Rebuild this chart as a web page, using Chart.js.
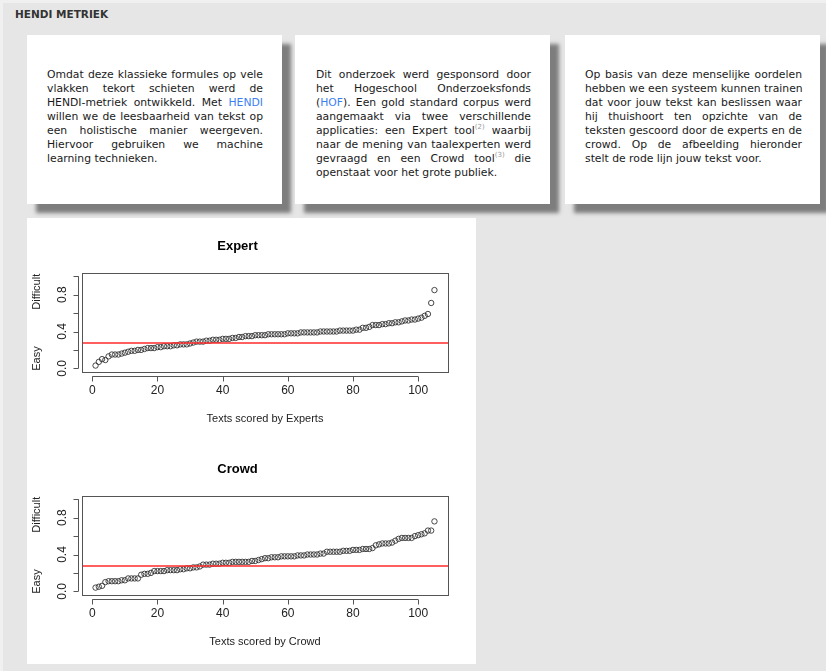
<!doctype html>
<html lang="nl">
<head>
<meta charset="utf-8">
<title>HENDI metriek</title>
<script src="https://cdn.jsdelivr.net/npm/chart.js@4.4.0/dist/chart.umd.min.js"></script>
<style>
  body { margin: 0; background: #e6e6e6; width: 826px; height: 671px; overflow: hidden; position: relative; font-family: "DejaVu Sans", sans-serif; }
  .edge { position: absolute; left: 0; top: 0; width: 826px; height: 3px; background: #f0f0f0; }
  .edge2 { position: absolute; left: 0; top: 0; width: 3px; height: 671px; background: #f0f0f0; }
  h1 { position: absolute; left: 15px; top: 7px; margin: 0; font-size: 10.5px; line-height: 14px; color: #333; font-weight: bold; }
  .card { position: absolute; top: 35px; width: 255px; height: 169px; box-sizing: border-box; padding: 33px 19px 0 20px;
          background: #fff; box-shadow: 9px 9px 4px #7d7d7d; font-size: 10.8px; line-height: 14px; color: #1a1a1a; }
  .card span { display: block; white-space: nowrap; text-align: justify; text-align-last: justify; }
  .card span.l { text-align-last: left; }
  .card a { color: #3d7ff0; text-decoration: none; }
  .card sup { font-size: 7px; color: #999; line-height: 0; }
  .panel { position: absolute; left: 27px; top: 218px; width: 449px; height: 446px; background: #fff; }
  canvas { position: absolute; left: 0; }
</style>
</head>
<body>
<div class="edge"></div><div class="edge2"></div>
<h1>HENDI METRIEK</h1>

<div class="card" style="left:27px">
  <span>Omdat deze klassieke formules op vele</span>
  <span>vlakken tekort schieten werd de</span>
  <span>HENDI-metriek ontwikkeld. Met <a href="#">HENDI</a></span>
  <span>willen we de leesbaarheid van tekst op</span>
  <span>een holistische manier weergeven.</span>
  <span>Hiervoor gebruiken we machine</span>
  <span class="l">learning technieken.</span>
</div>

<div class="card" style="left:295px; padding-left:21px">
  <span>Dit onderzoek werd gesponsord door</span>
  <span>het Hogeschool Onderzoeksfonds</span>
  <span>(<a href="#">HOF</a>). Een gold standard corpus werd</span>
  <span>aangemaakt via twee verschillende</span>
  <span>applicaties: een Expert tool<sup>(2)</sup> waarbij</span>
  <span>naar de mening van taalexperten werd</span>
  <span>gevraagd en een Crowd tool<sup>(3)</sup> die</span>
  <span class="l">openstaat voor het grote publiek.</span>
</div>

<div class="card" style="left:565px; padding-right:18px">
  <span>Op basis van deze menselijke oordelen</span>
  <span>hebben we een systeem kunnen trainen</span>
  <span>dat voor jouw tekst kan beslissen waar</span>
  <span>hij thuishoort ten opzichte van de</span>
  <span>teksten gescoord door de experts en de</span>
  <span>crowd. Op de afbeelding hieronder</span>
  <span class="l">stelt de rode lijn jouw tekst voor.</span>
</div>

<div class="panel">
  <canvas id="expertChart" width="449" height="215" style="top:7px"></canvas>
  <canvas id="crowdChart" width="449" height="215" style="top:230px"></canvas>
</div>

<script>
// sorted scores per text
const expertScores = [
  0.03, 0.07, 0.10, 0.09, 0.13, 0.15, 0.15, 0.15, 0.16, 0.17,
  0.18, 0.19, 0.19, 0.20, 0.20, 0.21, 0.22, 0.22, 0.22, 0.23,
  0.23, 0.24, 0.24, 0.24, 0.25, 0.25, 0.26, 0.26, 0.26, 0.27,
  0.28, 0.29, 0.29, 0.29, 0.30, 0.30, 0.31, 0.31, 0.31, 0.32,
  0.32, 0.32, 0.33, 0.33, 0.34, 0.34, 0.35, 0.35, 0.35, 0.36,
  0.36, 0.36, 0.36, 0.37, 0.37, 0.37, 0.37, 0.37, 0.37, 0.38,
  0.38, 0.38, 0.38, 0.39, 0.39, 0.39, 0.39, 0.39, 0.39, 0.40,
  0.40, 0.40, 0.40, 0.40, 0.40, 0.41, 0.41, 0.41, 0.41, 0.41,
  0.42, 0.42, 0.44, 0.44, 0.45, 0.47, 0.47, 0.47, 0.48, 0.48,
  0.49, 0.49, 0.50, 0.50, 0.51, 0.52, 0.52, 0.53, 0.53, 0.54,
  0.55, 0.57, 0.59, 0.71, 0.85
];
const crowdScores = [
  0.04, 0.05, 0.06, 0.10, 0.11, 0.11, 0.11, 0.11, 0.12, 0.12,
  0.14, 0.14, 0.14, 0.14, 0.18, 0.19, 0.19, 0.20, 0.22, 0.22,
  0.22, 0.22, 0.23, 0.23, 0.23, 0.23, 0.24, 0.24, 0.25, 0.25,
  0.26, 0.26, 0.27, 0.29, 0.29, 0.29, 0.30, 0.30, 0.30, 0.31,
  0.31, 0.31, 0.32, 0.32, 0.32, 0.32, 0.32, 0.32, 0.33, 0.33,
  0.34, 0.35, 0.36, 0.36, 0.37, 0.37, 0.37, 0.38, 0.38, 0.38,
  0.38, 0.38, 0.39, 0.39, 0.39, 0.40, 0.40, 0.40, 0.40, 0.41,
  0.41, 0.43, 0.43, 0.43, 0.43, 0.43, 0.44, 0.44, 0.44, 0.45,
  0.45, 0.45, 0.46, 0.46, 0.46, 0.47, 0.50, 0.51, 0.52, 0.52,
  0.52, 0.53, 0.55, 0.57, 0.58, 0.58, 0.58, 0.58, 0.60, 0.61,
  0.62, 0.63, 0.66, 0.66, 0.76
];
const userScore = 0.28;           // the red line: "jouw tekst"
const xTicks = [0, 20, 40, 60, 80, 100];
const yTicks = [0, 0.2, 0.4, 0.6, 0.8, 1.0];
const yLabels = [0, 0.4, 0.8];
const yTitle = 'Easy            Difficult';

// box around the plot, detached axis lines (base R look) and the red abline
const rStyle = {
  id: 'rStyle',
  afterDatasetsDraw(chart) {
    const { ctx, chartArea: a, scales: { y } } = chart;
    const py = Math.round(y.getPixelForValue(userScore));
    ctx.save();
    ctx.strokeStyle = '#ff2a2a';
    ctx.lineWidth = 1.6;
    ctx.beginPath();
    ctx.moveTo(a.left, py);
    ctx.lineTo(a.right, py);
    ctx.stroke();
    ctx.restore();
  },
  afterDraw(chart) {
    const { ctx, chartArea: a, scales: { x, y } } = chart;
    ctx.save();
    ctx.strokeStyle = '#555';
    ctx.lineWidth = 1;
    ctx.strokeRect(Math.round(a.left) + 0.5, Math.round(a.top) + 0.5, Math.round(a.right - a.left), Math.round(a.bottom - a.top));
    ctx.beginPath();
    const ax = Math.round(a.left - 4) + 0.5;
    ctx.moveTo(ax, y.getPixelForValue(yTicks[0]));
    ctx.lineTo(ax, y.getPixelForValue(yTicks[yTicks.length - 1]));
    yTicks.forEach(v => {
      const p = Math.round(y.getPixelForValue(v)) + 0.5;
      ctx.moveTo(ax, p); ctx.lineTo(ax - 5, p);
    });
    const ay = Math.round(a.bottom + 4) + 0.5;
    ctx.moveTo(x.getPixelForValue(xTicks[0]), ay);
    ctx.lineTo(x.getPixelForValue(xTicks[xTicks.length - 1]), ay);
    xTicks.forEach(v => {
      const p = Math.round(x.getPixelForValue(v)) + 0.5;
      ctx.moveTo(p, ay); ctx.lineTo(p, ay + 5);
    });
    ctx.stroke();
    ctx.restore();
  }
};

let makeChart = (id, title, xTitle, scores) => {
  const n = scores.length;
  const xMin = 1 - 0.04 * (n - 1);
  const xMax = n + 0.04 * (n - 1);
  const hidden = 'rgba(0,0,0,0)';

  return new Chart(document.getElementById(id), {
    type: 'scatter',
    data: {
      datasets: [{
        data: scores.map((v, i) => ({ x: i + 1, y: v })),
        pointRadius: 2.7,
        pointBorderWidth: 0.9,
        pointBorderColor: '#333',
        pointBackgroundColor: hidden
      }]
    },
    options: {
      responsive: false,
      animation: false,
      layout: { padding: { left: 0, right: 28, top: 0, bottom: 0 } },
      plugins: {
        legend: { display: false },
        tooltip: { enabled: false },
        title: {
          display: true, text: title, color: '#000',
          font: { family: 'Liberation Sans', size: 13, weight: 'bold' },
          padding: { top: 14, bottom: 18 }
        }
      },
      scales: {
        x: {
          type: 'linear', min: xMin, max: xMax,
          afterBuildTicks: s => { s.ticks = xTicks.map(v => ({ value: v })); },
          afterFit: s => { s.height = 68; },
          ticks: { color: '#222', font: { family: 'Liberation Sans', size: 12 }, padding: 2.5, autoSkip: false, maxRotation: 0 },
          grid: { display: true, drawOnChartArea: false, drawTicks: true, tickLength: 9, color: hidden },
          border: { display: false },
          title: { display: true, text: xTitle, color: '#222', font: { family: 'Liberation Sans', size: 11 }, padding: { top: 0, bottom: 14 } }
        },
        y: {
          min: -0.04, max: 1.04,
          afterBuildTicks: s => { s.ticks = yTicks.map(v => ({ value: v })); },
          afterFit: s => { s.width = 55; },
          ticks: {
            color: '#222', font: { family: 'Liberation Sans', size: 12 }, padding: 2,
            autoSkip: false, minRotation: 90, maxRotation: 90, crossAlign: 'center',
            callback: v => yLabels.includes(v) ? v.toFixed(1) : ''
          },
          grid: { display: true, drawOnChartArea: false, drawTicks: true, tickLength: 9, color: hidden },
          border: { display: false },
          title: { display: true, text: yTitle, color: '#222', font: { family: 'Liberation Sans', size: 11 }, padding: { top: 3.4, bottom: 0 } }
        }
      }
    },
    plugins: [rStyle]
  });
};

makeChart('expertChart', 'Expert', 'Texts scored by Experts', expertScores);
makeChart('crowdChart', 'Crowd', 'Texts scored by Crowd', crowdScores);
</script>
</body>
</html>
